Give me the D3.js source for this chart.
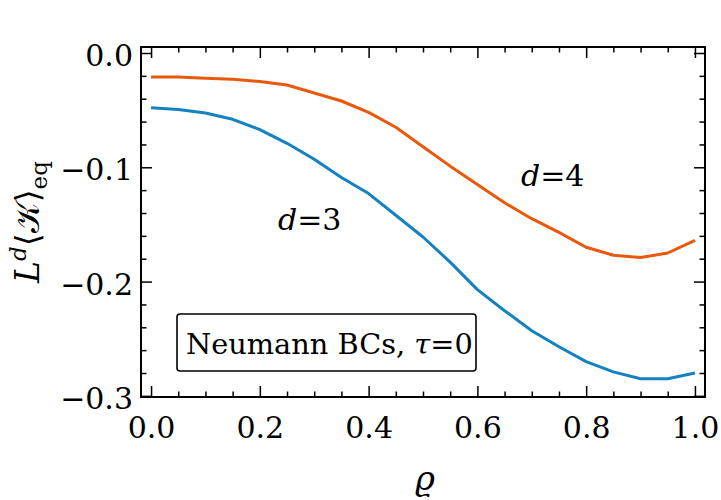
<!DOCTYPE html>
<html>
<head>
<meta charset="utf-8">
<script src="https://cdn.jsdelivr.net/npm/d3@7"></script>
<style>
  body { margin: 0; background: #fff; }
  svg text { font-family: "DejaVu Serif", "Liberation Serif", serif; fill: #000; }
</style>
</head>
<body>
<div id="chart"></div>
<script>
// rho grid and the two curves
var rho = [0, 0.05, 0.1, 0.15, 0.2, 0.25, 0.3, 0.35, 0.4, 0.45, 0.5,
           0.55, 0.6, 0.65, 0.7, 0.75, 0.8, 0.85, 0.9, 0.95, 1.0];
var k_d3 = [-0.048, -0.0495, -0.0525, -0.058, -0.067, -0.079, -0.093, -0.109, -0.123, -0.142, -0.161,
            -0.183, -0.207, -0.2255, -0.243, -0.257, -0.270, -0.279, -0.285, -0.285, -0.280];
var k_d4 = [-0.021, -0.021, -0.022, -0.023, -0.025, -0.028, -0.035, -0.042, -0.052, -0.065, -0.082,
            -0.099, -0.115, -0.131, -0.145, -0.157, -0.170, -0.177, -0.179, -0.175, -0.164];
var xTicks = [0, 0.2, 0.4, 0.6, 0.8, 1.0];
var yTicks = [0, -0.1, -0.2, -0.3];

var W = 721, H = 500;
var svg = d3.select('#chart').append('svg')
    .attr('width', W)
    .attr('height', H);

var x = d3.scaleLinear().domain([-0.0185, 1.0185]).range([141, 705]);
var y = d3.scaleLinear().domain([-0.301, 0.00525]).range([397, 47]);

var xMinor = d3.range(0, 1.0001, 0.05).filter(function(v){ return Math.abs(v / 0.2 - Math.round(v / 0.2)) > 1e-6; });
var yMinor = d3.range(-0.3, 0.0001, 0.02).filter(function(v){ return Math.abs(v / 0.1 - Math.round(v / 0.1)) > 1e-6; });

function styleAxis(g) {
    g.select('.domain').remove();
    g.selectAll('line').attr('stroke', '#000').attr('stroke-width', 1.5);
    g.selectAll('text').style('font-size', '30px');
}

// major + minor ticks, all pointing inward
svg.append('g').attr('transform', 'translate(0,397)')
    .call(d3.axisBottom(x).tickValues(xTicks).tickSize(-11).tickPadding(20).tickFormat(d3.format('.1f')))
    .call(styleAxis);
svg.append('g').attr('transform', 'translate(0,397)')
    .call(d3.axisBottom(x).tickValues(xMinor).tickSize(-5.5).tickFormat(''))
    .call(styleAxis);
svg.append('g').attr('transform', 'translate(0,47)')
    .call(d3.axisTop(x).tickValues(xTicks).tickSize(-11).tickFormat(''))
    .call(styleAxis);
svg.append('g').attr('transform', 'translate(0,47)')
    .call(d3.axisTop(x).tickValues(xMinor).tickSize(-5.5).tickFormat(''))
    .call(styleAxis);

svg.append('g').attr('transform', 'translate(141,0)')
    .call(d3.axisLeft(y).tickValues(yTicks).tickSize(-11).tickPadding(8)
        .tickFormat(function(d){ return d3.format('.1f')(d).replace('-', '\u2212'); }))
    .call(styleAxis)
    .call(function(g){ g.selectAll('text').attr('dy', '0.42em'); });
svg.append('g').attr('transform', 'translate(141,0)')
    .call(d3.axisLeft(y).tickValues(yMinor).tickSize(-5.5).tickFormat(''))
    .call(styleAxis);
svg.append('g').attr('transform', 'translate(705,0)')
    .call(d3.axisRight(y).tickValues(yTicks).tickSize(-11).tickFormat(''))
    .call(styleAxis);
svg.append('g').attr('transform', 'translate(705,0)')
    .call(d3.axisRight(y).tickValues(yMinor).tickSize(-5.5).tickFormat(''))
    .call(styleAxis);

// frame
svg.append('rect')
    .attr('x', 141).attr('y', 47)
    .attr('width', 705 - 141).attr('height', 397 - 47)
    .attr('fill', 'none').attr('stroke', '#000').attr('stroke-width', 2);

var line = d3.line()
    .x(function(d){ return x(d[0]); })
    .y(function(d){ return y(d[1]); });

svg.append('path')
    .datum(d3.zip(rho, k_d4))
    .attr('d', line)
    .attr('fill', 'none').attr('stroke', '#e9590b').attr('stroke-width', 3)
    .attr('stroke-linejoin', 'round');
svg.append('path')
    .datum(d3.zip(rho, k_d3))
    .attr('d', line)
    .attr('fill', 'none').attr('stroke', '#1481c1').attr('stroke-width', 3)
    .attr('stroke-linejoin', 'round');

// curve labels
function dLabel(px, py, n) {
    var t = svg.append('text').attr('x', px).attr('y', py).style('font-size', '30px');
    t.append('tspan').style('font-style', 'italic').text('d');
    t.append('tspan').text('=');
    t.append('tspan').text(n);
}
dLabel(278, 230, '3');
dLabel(521, 186, '4');

// boundary condition box
svg.append('rect')
    .attr('x', 177).attr('y', 314)
    .attr('width', 299).attr('height', 57)
    .attr('rx', 3)
    .attr('fill', '#fff').attr('stroke', '#000').attr('stroke-width', 1.6);
var bc = svg.append('text').attr('x', 186).attr('y', 354).style('font-size', '28.8px');
bc.append('tspan').text('Neumann BCs, ');
bc.append('tspan').style('font-style', 'italic').text('\u03c4');
bc.append('tspan').text('=');
bc.append('tspan').text('0');

// axis labels
svg.append('text')
    .attr('x', 425).attr('y', 490)
    .attr('text-anchor', 'middle')
    .style('font-size', '34px').style('font-style', 'italic')
    .text('\u03f1');

var yl = svg.append('text')
    .attr('transform', 'translate(39,222) rotate(-90)')
    .attr('text-anchor', 'middle')
    .style('font-size', '33px');
yl.append('tspan').style('font-style', 'italic').text('L');
yl.append('tspan').attr('dy', -13).style('font-size', '23px').style('font-style', 'italic').text('d');
yl.append('tspan').attr('dy', 13).text('\u27e8');
yl.append('tspan').text('\ud835\udca6');
yl.append('tspan').text('\u27e9');
yl.append('tspan').attr('dy', 8).style('font-size', '23px').text('eq');
</script>
</body>
</html>
